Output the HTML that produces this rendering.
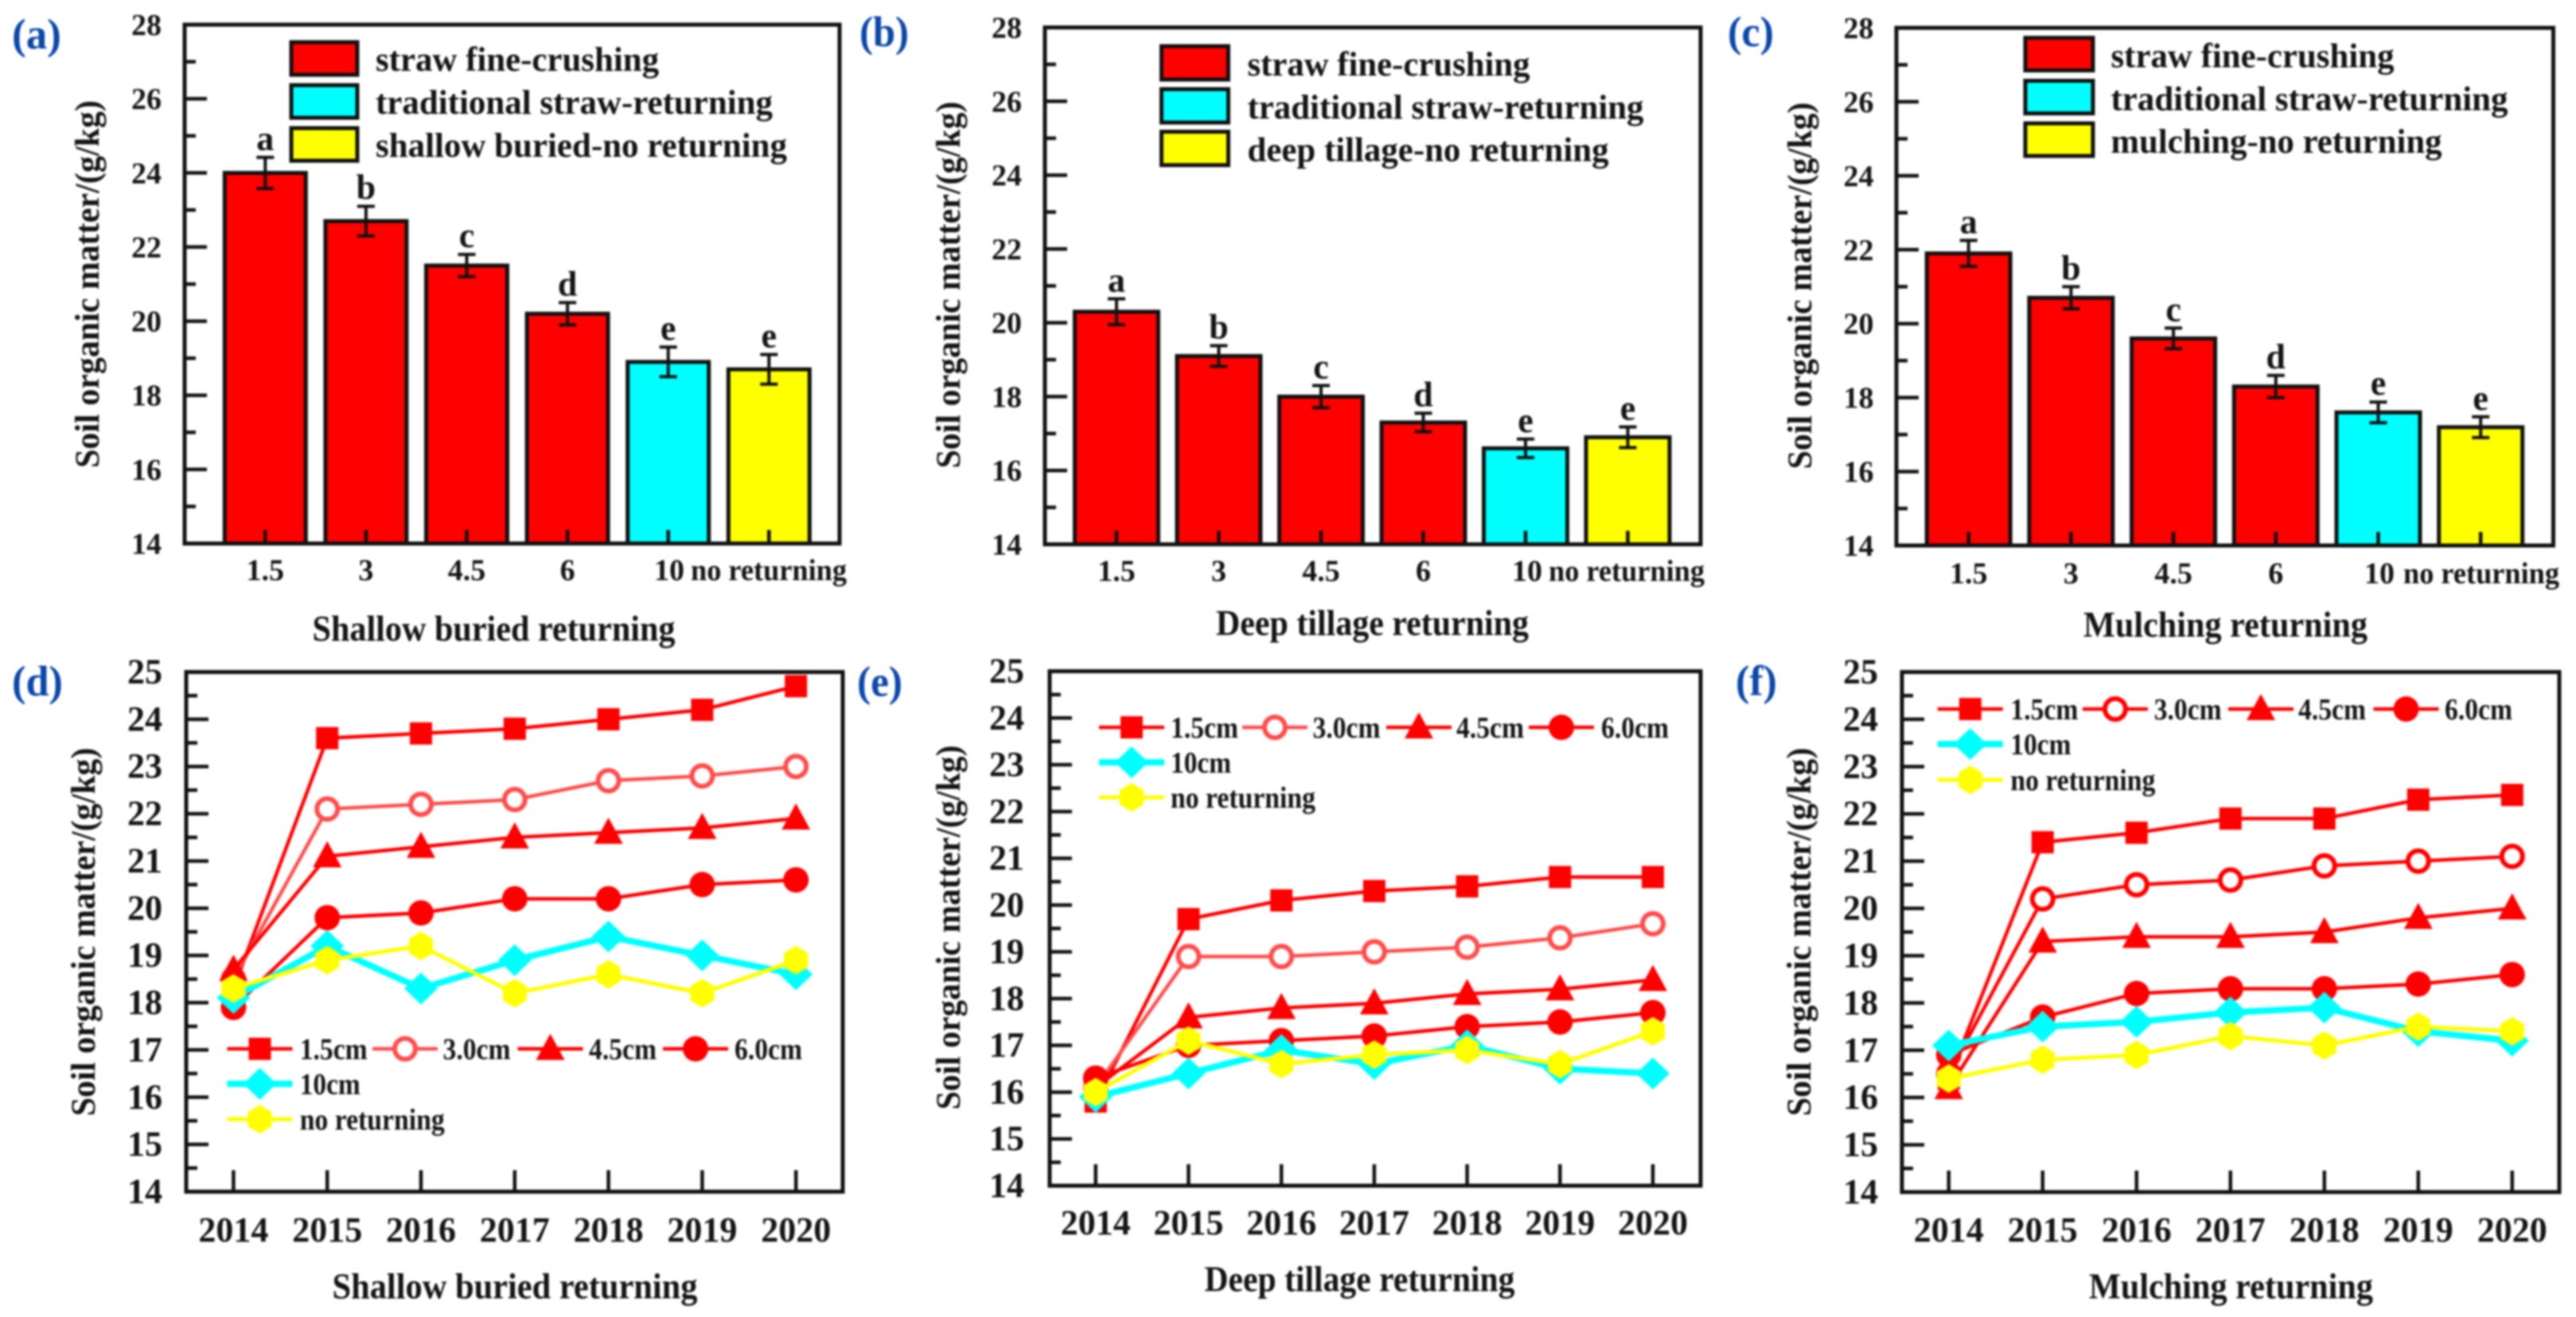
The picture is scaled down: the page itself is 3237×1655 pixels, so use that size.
<!DOCTYPE html>
<html lang="en">
<head>
<meta charset="utf-8">
<title>Soil organic matter panels</title>
<style>
html,body{margin:0;padding:0;background:#fff;width:3237px;height:1655px;overflow:hidden}
svg{display:block;filter:blur(1.2px)}
text{font-family:"Liberation Serif",serif;font-weight:bold;fill:#141414}
</style>
</head>
<body>
<svg id="figure" xmlns="http://www.w3.org/2000/svg" width="3237" height="1655" viewBox="0 0 3237 1655"></svg>
<script>
// ---- bar chart data ----
const barCategories = ['1.5','3','4.5','6','10','no returning'];
const barValuesA = [24,22.7,21.5,20.2,18.9,18.7];
const barErrorsA = [0.42,0.4,0.3,0.3,0.4,0.4];
const barValuesB = [20.3,19.1,18,17.3,16.6,16.9];
const barErrorsB = [0.35,0.28,0.3,0.25,0.25,0.28];
const barValuesC = [21.9,20.7,19.6,18.3,17.6,17.2];
const barErrorsC = [0.35,0.3,0.28,0.3,0.28,0.28];
const barLetters = ['a','b','c','d','e','e'];
const barTicks = [14,16,18,20,22,24,26,28];
const barMinorTicks = [15,17,19,21,23,25,27];
const legendA = ['straw fine-crushing','traditional straw-returning','shallow buried-no returning'];
const legendB = ['straw fine-crushing','traditional straw-returning','deep tillage-no returning'];
const legendC = ['straw fine-crushing','traditional straw-returning','mulching-no returning'];

// ---- line chart data ----
const years = ['2014','2015','2016','2017','2018','2019','2020'];
const lineTicks = [14,15,16,17,18,19,20,21,22,23,24,25];
const lineMinorTicks = [14.5,15.5,16.5,17.5,18.5,19.5,20.5,21.5,22.5,23.5,24.5];
const seriesLabels = ['1.5cm','3.0cm','4.5cm','6.0cm','10cm','no returning'];

const panelD15 = [18.3,23.6,23.7,23.8,24,24.2,24.7];
const panelD30 = [18.5,22.1,22.2,22.3,22.7,22.8,23];
const panelD45 = [18.7,21.1,21.3,21.5,21.6,21.7,21.9];
const panelD60 = [17.9,19.8,19.9,20.2,20.2,20.5,20.6];
const panelD10 = [18.1,19.2,18.3,18.9,19.4,19,18.6];
const panelDNo = [18.3,18.9,19.2,18.2,18.6,18.2,18.9];

const panelE15 = [15.8,19.7,20.1,20.3,20.4,20.6,20.6];
const panelE30 = [16.1,18.9,18.9,19,19.1,19.3,19.6];
const panelE45 = [16.1,17.6,17.8,17.9,18.1,18.2,18.4];
const panelE60 = [16.3,17,17.1,17.2,17.4,17.5,17.7];
const panelE10 = [15.9,16.4,16.9,16.6,17,16.5,16.4];
const panelENo = [16,17.1,16.6,16.8,16.9,16.6,17.3];

const panelF15 = [16.4,21.4,21.6,21.9,21.9,22.3,22.4];
const panelF30 = [16.5,20.2,20.5,20.6,20.9,21,21.1];
const panelF45 = [16.2,19.3,19.4,19.4,19.5,19.8,20];
const panelF60 = [16.9,17.7,18.2,18.3,18.3,18.4,18.6];
const panelF10 = [17.1,17.5,17.6,17.8,17.9,17.4,17.2];
const panelFNo = [16.4,16.8,16.9,17.3,17.1,17.5,17.4];

// ---- drawing ----
const NS = 'http://www.w3.org/2000/svg';
const svg = document.getElementById('figure');
function mk(tag, attrs, parent, txt){
  const el = document.createElementNS(NS, tag);
  for (const k in attrs) el.setAttribute(k, attrs[k]);
  if (txt !== undefined) el.textContent = txt;
  (parent || svg).appendChild(el);
  return el;
}
function group(name){
  const g = mk('g', {});
  
  
  return g;
}
function label(g, name, x, y, size, str, anchor, width, fill){
  const a = {x:x, y:y, 'font-size':size, 'text-anchor':anchor || 'start'};
  if (width) { a.textLength = width; a.lengthAdjust = 'spacingAndGlyphs'; }
  if (fill) a.style = 'fill:' + fill;
  const t = mk('text', a, g, str);
  
  
  return t;
}
function tick(g, name, x1, y1, x2, y2, w){
  const l = mk('line', {x1:x1, y1:y1, x2:x2, y2:y2, stroke:'#111', 'stroke-width':w || 4.5}, g);
  
  
  return l;
}
function frame(g, L){
  const r = mk('rect', {x:L.left, y:L.top, width:L.right-L.left, height:L.bottom-L.top, fill:'none', stroke:'#111', 'stroke-width':5}, g);
  
  
}
function titles(g, L, tag, xTitle){
  label(g, 'panel-label', L.tagX, L.tagY, 54, tag, 'start', L.tagW, '#0a47a9');
  label(g, 'x-axis-title', L.xTitleX, L.xTitleY, 46, xTitle, 'middle', L.xTitleW);
  const cy = L.yTitleY;
  const t = label(g, 'y-axis-title', L.yTitleX, cy, 43, 'Soil organic matter/(g/kg)', 'middle', L.yTitleW);
  t.setAttribute('transform', 'rotate(-90 ' + L.yTitleX + ' ' + cy + ')');
}

const barColors = ['#ff0000','#ff0000','#ff0000','#ff0000','#00ffff','#ffff00'];
const legendColors = ['#ff0000','#00ffff','#ffff00'];

function drawBarPanel(name, tag, L, values, errors, legend, xTitle){
  const g = group(name);
  const y = v => L.bottom - (v - 14) * (L.bottom - L.top) / 14;
  const x = i => L.x0 + i * L.step;
  values.forEach((v, i) => {
    const r = mk('rect', {x:x(i)-L.barW/2, y:y(v), width:L.barW, height:y(14)-y(v), fill:barColors[i], stroke:'#111', 'stroke-width':5}, g);
    
    
    const cx = x(i), top = y(v + errors[i]), bot = y(v - errors[i]);
    tick(g, 'error-bar-stem', cx, top, cx, bot, 4);
    tick(g, 'error-bar-cap-top', cx-11, top, cx+11, top, 4);
    tick(g, 'error-bar-cap-bottom', cx-11, bot, cx+11, bot, 4);
    const t = label(g, 'significance-letter', cx, top - 9, 44, barLetters[i], 'middle');
    tick(g, 'x-tick', cx, L.bottom, cx, L.bottom-17);
    if (i < 5) {
      const lx = i === 4 ? L.tenX : cx;
      label(g, 'x-tick-label', lx, L.xLabelY, 38, barCategories[i], 'middle');
    } else {
      label(g, 'x-tick-label', L.noX, L.xLabelY, 38, barCategories[i], 'middle', 196);
    }
  });
  barTicks.forEach(v => {
    tick(g, 'y-tick-major', L.left, y(v), L.left+28, y(v));
    label(g, 'y-tick-label', L.yLabelX, y(v)+13, 38, String(v), 'end');
  });
  barMinorTicks.forEach(v => tick(g, 'y-tick-minor', L.left, y(v), L.left+14, y(v)));
  frame(g, L);
  legend.forEach((s, i) => {
    const sw = mk('rect', {x:L.swX, y:L.swY[i], width:L.swW, height:L.swH, fill:legendColors[i], stroke:'#111', 'stroke-width':5}, g);
    
    
    label(g, 'legend-entry', L.lgX, L.swY[i]+L.lgDy, 43, s, 'start', L.lgW[i]);
  });
  titles(g, L, tag, xTitle);
}

function marker(g, kind, cx, cy, color){
  let el;
  if (kind === 'square') {
    el = mk('rect', {x:cx-14, y:cy-14, width:28, height:28, fill:color}, g);
  } else if (kind === 'open') {
    el = mk('circle', {cx:cx, cy:cy, r:13, fill:'#fff', stroke:color, 'stroke-width':6}, g);
  } else if (kind === 'tri') {
    el = mk('polygon', {points:[cx-18,cy+14, cx+18,cy+14, cx,cy-19].join(' '), fill:color}, g);
  } else if (kind === 'circle') {
    el = mk('circle', {cx:cx, cy:cy, r:16, fill:color}, g);
  } else if (kind === 'diamond') {
    el = mk('polygon', {points:[cx-21,cy, cx,cy-20, cx+21,cy, cx,cy+20].join(' '), fill:color}, g);
  } else {
    el = mk('polygon', {points:[cx,cy-18, cx+15,cy-9, cx+15,cy+9, cx,cy+18, cx-15,cy+9, cx-15,cy-9].join(' '), fill:color}, g);
  }
  
  
}

function drawLinePanel(name, tag, L, series, xTitle){
  const g = group(name);
  const y = v => L.bottom - (v - 14) * (L.bottom - L.top) / 11;
  const x = i => L.x0 + i * L.step;
  const kinds = ['square','open','tri','circle','diamond','hex'];
  const colors = ['#ff0000', L.open, '#ff0000', '#ff0000', '#00ffff', '#ffff00'];
  const widths = [4.5, 4.5, 4.5, 4.5, 8, 5];
  lineTicks.forEach(v => {
    tick(g, 'y-tick-major', L.left, y(v), L.left+28, y(v));
    label(g, 'y-tick-label', L.yLabelX, y(v)+14, 44, String(v), 'end');
  });
  lineMinorTicks.forEach(v => tick(g, 'y-tick-minor', L.left, y(v), L.left+14, y(v)));
  years.forEach((yr, i) => {
    tick(g, 'x-tick', x(i), L.bottom, x(i), L.bottom-27);
    label(g, 'x-tick-label', x(i), L.xLabelY, 44, yr, 'middle');
  });
  frame(g, L);
  series.forEach((vals, s) => {
    const pts = vals.map((v, i) => x(i) + ',' + y(v)).join(' ');
    const pl = mk('polyline', {points:pts, fill:'none', stroke:colors[s], 'stroke-width':widths[s]}, g);
    
    
    vals.forEach((v, i) => marker(g, kinds[s], x(i), y(v), colors[s]));
  });
  seriesLabels.forEach((s, i) => {
    const row = i < 4 ? 0 : i - 3;
    const slot = i < 4 ? i : 0;
    const cx = L.lgC[slot], cy = L.lgY[row];
    const ln = mk('line', {x1:cx-41, y1:cy, x2:cx+41, y2:cy, stroke:colors[i], 'stroke-width':widths[i]}, g);
    
    
    marker(g, kinds[i], cx, cy, colors[i]);
    const w = i < 4 ? 85 : (i === 4 ? 76 : 182);
    label(g, 'legend-entry', L.lgT[slot], cy+13, 38, s, 'start', w);
  });
  titles(g, L, tag, xTitle);
}

const layoutA = {left:232,right:1055,top:31,bottom:683,x0:333.3,step:126.6,barW:102,yLabelX:203,xLabelY:729,tenX:841,noX:966,
  swX:366,swW:83,swH:41,swY:[53,107,161],lgX:472,lgDy:36,lgW:[356,499,517],
  tagX:15,tagY:61,tagW:62,xTitleX:620.5,xTitleY:805,xTitleW:456,yTitleX:124,yTitleY:357,yTitleW:462};
const layoutB = {left:1313,right:2137,top:34.5,bottom:684,x0:1403,step:128.5,barW:105,yLabelX:1284,xLabelY:730,tenX:1919,noX:2044,
  swX:1459.5,swW:84,swH:42,swY:[58,112,165.5],lgX:1567.5,lgDy:37,lgW:[355,498,454],
  tagX:1080,tagY:58,tagW:62,xTitleX:1724.5,xTitleY:798,xTitleW:393,yTitleX:1206,yTitleY:358,yTitleW:461};
const layoutC = {left:2383,right:3208.5,top:35,bottom:685.5,x0:2473.7,step:128.7,barW:105,yLabelX:2354.5,xLabelY:733,tenX:2990,noX:3118,
  swX:2545,swW:85,swH:41,swY:[47.5,101.5,155],lgX:2652.5,lgDy:37,lgW:[356,499,416],
  tagX:2171,tagY:58,tagW:58,xTitleX:2796.5,xTitleY:800,xTitleW:357,yTitleX:2276,yTitleY:359,yTitleW:461};
const layoutD = {left:234,right:1059,top:844.5,bottom:1497.5,x0:293.4,step:117.8,open:'#ff4d4d',yLabelX:204,xLabelY:1560,
  lgC:[326.5,509,691.5,874],lgT:[376.7,556.5,740,923],lgY:[1318,1362,1406.5],
  tagX:15,tagY:874,tagW:64,xTitleX:647,xTitleY:1631.5,xTitleW:459,yTitleX:119,yTitleY:1171,yTitleW:463};
const layoutE = {left:1319,right:2137,top:843.5,bottom:1490,x0:1376.8,step:116.7,open:'#ff4d4d',yLabelX:1287,xLabelY:1551,
  lgC:[1422,1602,1783,1962],lgT:[1471,1649.5,1830,2012],lgY:[914,958,1002],
  tagX:1077,tagY:874.5,tagW:57,xTitleX:1708.5,xTitleY:1622.5,xTitleW:390,yTitleX:1206,yTitleY:1165.5,yTitleW:458};
const layoutF = {left:2390,right:3216,top:844.5,bottom:1498,x0:2448.8,step:118,open:'#ff0000',yLabelX:2360,xLabelY:1560,
  lgC:[2475.8,2658,2841,3023.5],lgT:[2526.4,2706.7,2888,3072],lgY:[891,935,980],
  tagX:2181,tagY:873.5,tagW:52,xTitleX:2803.5,xTitleY:1631.5,xTitleW:357,yTitleX:2275,yTitleY:1171,yTitleW:463};

drawBarPanel('panel-a-shallow-buried-bars','(a)',layoutA,barValuesA,barErrorsA,legendA,'Shallow buried returning');
drawBarPanel('panel-b-deep-tillage-bars','(b)',layoutB,barValuesB,barErrorsB,legendB,'Deep tillage returning');
drawBarPanel('panel-c-mulching-bars','(c)',layoutC,barValuesC,barErrorsC,legendC,'Mulching returning');
drawLinePanel('panel-d-shallow-buried-lines','(d)',layoutD,[panelD15,panelD30,panelD45,panelD60,panelD10,panelDNo],'Shallow buried returning');
drawLinePanel('panel-e-deep-tillage-lines','(e)',layoutE,[panelE15,panelE30,panelE45,panelE60,panelE10,panelENo],'Deep tillage returning');
drawLinePanel('panel-f-mulching-lines','(f)',layoutF,[panelF15,panelF30,panelF45,panelF60,panelF10,panelFNo],'Mulching returning');
</script>
</body>
</html>
